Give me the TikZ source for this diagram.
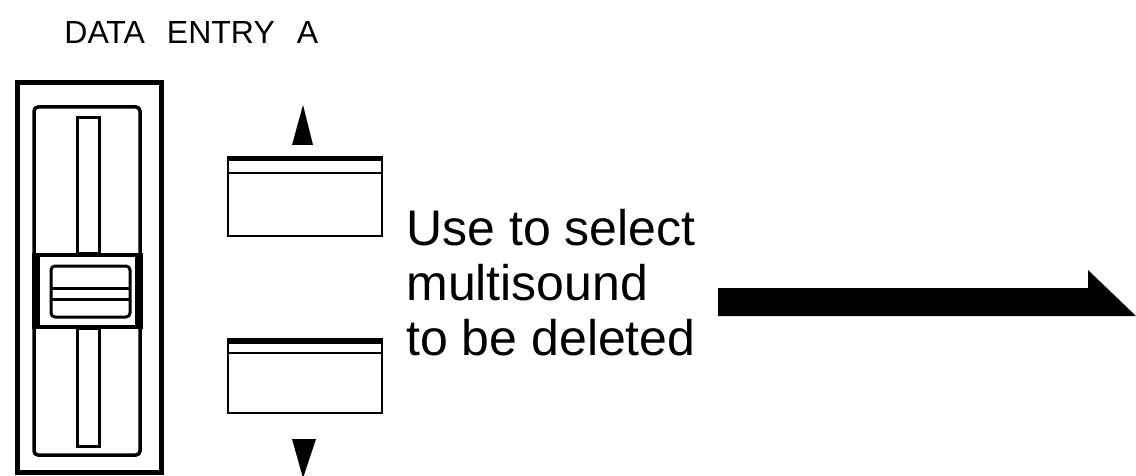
\documentclass[tikz,border=0pt]{standalone}
\usepackage{fontspec}
\setmainfont{Liberation Sans}
\setsansfont{Liberation Sans}
\usetikzlibrary{positioning}
\begin{document}
\begin{tikzpicture}[x=0.5pt,y=-0.5pt,
    buttonbox/.style={line width=1.2pt},
    slotbox/.style={line width=1.5pt}]
                \useasboundingbox (0,0) rectangle (1136,476);
                \coordinate (FaderTop) at (17,83);
                \coordinate (FaderBottom) at (161,472);
                \coordinate (UpTip) at (303,105);
                \coordinate (DownTip) at (303,478);
                \coordinate (ArrowStart) at (718,288);

                % fader
                \draw[line width=2.5pt] (FaderTop) rectangle (FaderBottom);
                \draw[line width=1.75pt,rounded corners=2pt] (34,107) rectangle (140,455);
                \draw[slotbox] (77,118) rectangle (99,253);
                \draw[slotbox] (77,328) rectangle (99,446);
                \draw[line width=2pt,fill=white] (34,255) rectangle (140,327);
                \fill (33,253) rectangle (40,329);
                \fill (135,253) rectangle (143,329);
                \draw[slotbox,rounded corners=2pt] (51,266) rectangle (130,317);
                \draw[slotbox] (51,288)--(130,288);
                \draw[slotbox] (51,299)--(130,299);

                % buttons
                \draw[buttonbox] (228,157) rectangle (382,236);
                \draw[line width=2.5pt] (228,159)--(382,159);
                \draw[buttonbox] (228,173)--(382,173);
                \draw[buttonbox] (228,339) rectangle (382,413);
                \draw[line width=2.5pt] (228,341)--(382,341);
                \draw[buttonbox] (228,353)--(382,353);
                \fill (UpTip)--(313,145)--(292,145)--cycle;
                \fill (DownTip)--(316,439)--(292,439)--cycle;

                % texts
                \node[anchor=base west,inner sep=0pt,font=\fontsize{16}{19}\selectfont] (DataLabel) at (64,44) {DATA\hspace{11pt}ENTRY\hspace{11pt}A};
                \node[anchor=base west,inner sep=0pt,align=left,font=\fontsize{25}{27.5}\selectfont] (SelectText) at (406,355) {Use to select\\multisound\\to be deleted};

                % big arrow
                \fill (ArrowStart)--(1088,288)--(1088,270)--(1136,316)--(718,316)--cycle;
            \end{tikzpicture}
\end{document}
